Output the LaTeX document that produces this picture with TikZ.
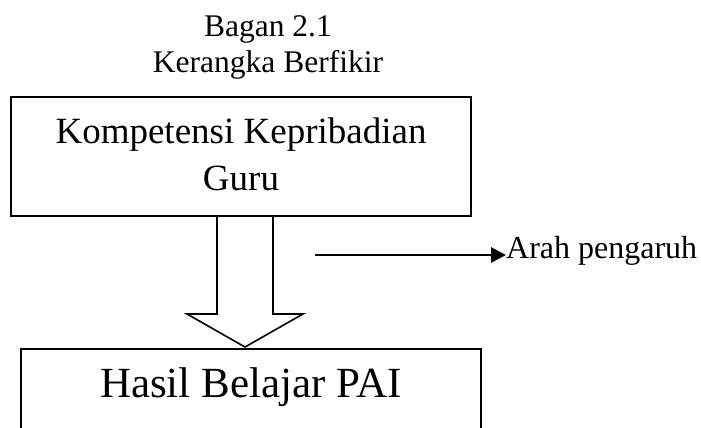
\documentclass[tikz,border=0pt]{standalone}
\usepackage{fontspec}
\setmainfont{Liberation Serif}
\usetikzlibrary{arrows.meta,calc}

\begin{document}
\begin{tikzpicture}[x=1pt, y=-1pt,
    kotak/.style={draw, line width=1.6pt, minimum width=460pt, inner sep=0pt, align=center},
    panahblok/.style={line width=1.6pt, line join=miter},
    panahket/.style={line width=2.8pt, -{Triangle[length=15pt,width=15pt]}}]
            \useasboundingbox (0,0) rectangle (701,428);
            \clip (0,0) rectangle (701,428);

            % judul
            \node (judul) [align=center, font=\fontsize{31.5}{36}\selectfont, anchor=base] at (268,73) {Bagan 2.1\\Kerangka Berfikir};

            % kotak variabel
            \node (guru) [kotak, minimum height=119pt, text depth=4pt, font=\fontsize{37}{47}\selectfont] at (241,156.5) {Kompetensi Kepribadian\\Guru};
            \node (hasil) [kotak, anchor=north, minimum height=120pt, text height=30pt, text depth=52pt, font=\fontsize{43}{48}\selectfont] at (251,348) {Hasil Belajar PAI};

            % panah besar
            \coordinate (ujung) at (245,347);
            \draw[panahblok] (217,215) |- (187,314) -- (ujung) -- (303,314) -| (273,215);

            % keterangan panah
            \coordinate (awal) at (315,255);
            \node (ket) [anchor=base west, inner sep=0pt, font=\fontsize{32}{36}\selectfont] at (506,258) {Arah pengaruh};
            \draw[panahket] (awal) -- (awal -| ket.west);
\end{tikzpicture}
\end{document}
